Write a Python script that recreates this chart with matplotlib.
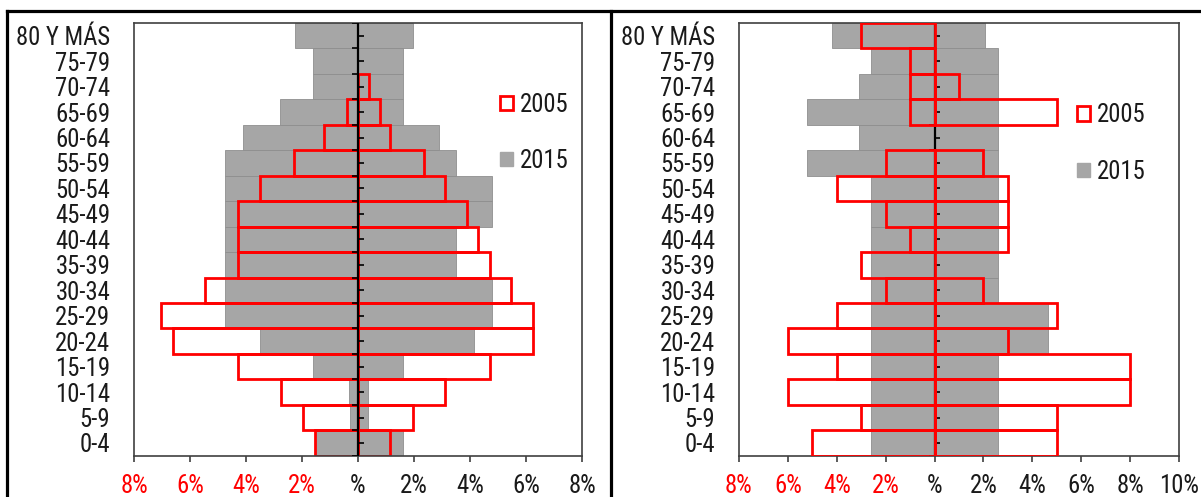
import matplotlib
matplotlib.use("Agg")
import matplotlib.pyplot as plt
from matplotlib import font_manager
from matplotlib.lines import Line2D
from matplotlib.patches import Patch
import numpy as np

# fuente estrecha tipo Arial Narrow, con alternativas
instaladas = {f.name for f in font_manager.fontManager.ttflist}
estrecha = next((f for f in ['Liberation Sans Narrow', 'Roboto Condensed', 'Archivo Narrow']
                 if f in instaladas), 'DejaVu Sans')
plt.rcParams['font.family'] = [estrecha, 'DejaVu Sans']
plt.rcParams['font.stretch'] = 'condensed'

ages = ['0-4', '5-9', '10-14', '15-19', '20-24', '25-29', '30-34', '35-39',
        '40-44', '45-49', '50-54', '55-59', '60-64', '65-69', '70-74', '75-79',
        '80 Y MÁS']

# panel izquierdo (%)
izq_2015_neg = [1.55, 0.3, 0.32, 1.6, 3.5, 4.75, 4.75, 4.75, 4.75, 4.75, 4.75, 4.75, 4.1, 2.8, 1.6, 1.6, 2.25]
izq_2015_pos = [1.6, 0.35, 0.35, 1.6, 4.15, 4.8, 4.8, 3.5, 3.5, 4.8, 4.8, 3.5, 2.9, 1.6, 1.6, 1.6, 1.95]
izq_2005_neg = [1.55, 1.95, 2.75, 4.3, 6.6, 7.05, 5.45, 4.3, 4.3, 4.3, 3.5, 2.3, 1.2, 0.4, 0, 0, 0]
izq_2005_pos = [1.15, 1.95, 3.1, 4.7, 6.25, 6.25, 5.45, 4.7, 4.3, 3.9, 3.1, 2.35, 1.15, 0.8, 0.4, 0, 0]

# panel derecho (%)
der_2015_neg = [2.6, 2.6, 2.6, 2.6, 2.6, 2.6, 2.6, 2.6, 2.6, 2.6, 2.6, 5.2, 3.1, 5.2, 3.1, 2.6, 4.2]
der_2015_pos = [2.6, 2.6, 2.6, 2.6, 4.65, 4.65, 2.6, 2.6, 2.6, 2.6, 2.6, 2.6, 2.6, 2.6, 2.6, 2.6, 2.05]
der_2005_neg = [5, 3, 6, 4, 6, 4, 2, 3, 1, 2, 4, 2, 0, 1, 1, 1, 3]
der_2005_pos = [5, 5, 8, 8, 3, 5, 2, 0, 3, 3, 3, 2, 0, 5, 1, 0, 0]

izq_ticks = [-8, -6, -4, -2, 0, 2, 4, 6, 8]
der_ticks = [-8, -6, -4, -2, 0, 2, 4, 6, 8, 10]

GRIS = '#a6a6a6'
ROJO = '#ff0000'
TXT = '#1a1a1a'
FS = 17.8


def piramide(ax, neg15, pos15, neg05, pos05, ticks, rojo_encima, leg_pos):
    y = np.arange(len(ages))
    ax.barh(y, -np.array(neg15), height=1.0, color=GRIS, edgecolor='#8e8e8e', lw=0.6, zorder=1)
    ax.barh(y, pos15, height=1.0, color=GRIS, edgecolor='#8e8e8e', lw=0.6, zorder=1)

    z_rojo = 4 if rojo_encima else 2
    n = np.array(neg05, dtype=float)
    p = np.array(pos05, dtype=float)
    ax.barh(y[n > 0], -n[n > 0], height=1.0, fill=False, edgecolor=ROJO, lw=2.0, zorder=z_rojo)
    ax.barh(y[p > 0], p[p > 0], height=1.0, fill=False, edgecolor=ROJO, lw=2.0, zorder=z_rojo)

    # eje central con marcas
    xmin, xmax = ticks[0], ticks[-1]
    tl = 0.013 * (xmax - xmin)
    ax.axvline(0, color='black', lw=1.6, zorder=3)
    bordes = np.arange(len(ages) + 1) - 0.5
    ax.hlines(bordes, -tl, 0, color='black', lw=1.2, zorder=3)
    ax.hlines(y, 0, tl, color='black', lw=1.2, zorder=3)

    ax.set_xlim(xmin, xmax)
    ax.set_ylim(-0.5, len(ages) - 0.5)
    ax.set_yticks(y)
    ax.set_yticklabels(ages, fontsize=FS, color=TXT)
    ax.tick_params(axis='y', length=0, pad=17)
    ax.set_xticks(ticks)
    etiquetas = ['%' if t == 0 else f'{abs(t)}%' for t in ticks]
    ax.set_xticklabels(etiquetas, fontsize=FS)
    for t, lab in zip(ticks, ax.get_xticklabels()):
        lab.set_color(ROJO if t < 0 else TXT)
    ax.tick_params(axis='x', length=4, width=1.2, color='#404040', pad=9)
    for s in ax.spines.values():
        s.set_color('#404040')
        s.set_linewidth(1.2)

    handles = [Patch(facecolor='white', edgecolor=ROJO, lw=2.0, label='2005'),
               Patch(facecolor=GRIS, edgecolor=GRIS, label='2015')]
    leg = ax.legend(handles=handles, loc='upper left', bbox_to_anchor=leg_pos, frameon=False,
                    fontsize=FS, handlelength=0.52, handleheight=0.52, handletextpad=0.3,
                    labelspacing=1.3, borderaxespad=0)
    for t in leg.get_texts():
        t.set_color(TXT)


fig = plt.figure(figsize=(12.01, 4.97), dpi=100)
ax1 = fig.add_axes([0.1116, 0.0831, 0.3730, 0.8706])
ax2 = fig.add_axes([0.6153, 0.0831, 0.3664, 0.8706])

piramide(ax1, izq_2015_neg, izq_2015_pos, izq_2005_neg, izq_2005_pos, izq_ticks, False, (0.795, 0.862))
piramide(ax2, der_2015_neg, der_2015_pos, der_2005_neg, der_2005_pos, der_ticks, True, (0.745, 0.837))

# marco exterior
W, H = 1201, 497
for xs, ys in [([7 / W, 1], [1 - 11 / H, 1 - 11 / H]),
               ([7 / W, 7 / W], [0, 1 - 11 / H]),
               ([611 / W, 611 / W], [0, 1 - 11 / H])]:
    fig.add_artist(Line2D(xs, ys, color='black', lw=2.3))

fig.savefig('out.png', dpi=100)
